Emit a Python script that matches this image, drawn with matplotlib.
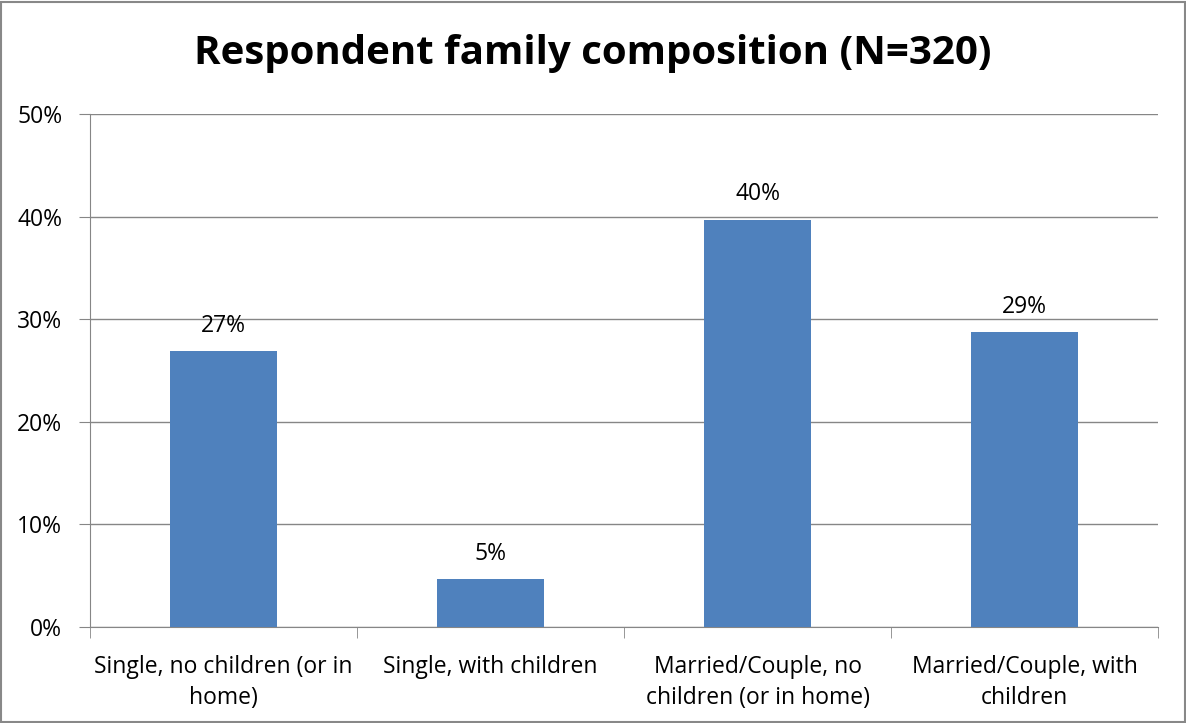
import matplotlib.pyplot as plt
import numpy as np

categories = ['Single, no children (or in\nhome)', 'Single, with children',
              'Married/Couple, no\nchildren (or in home)', 'Married/Couple, with\nchildren']
counts = [86, 15, 127, 92]
n_total = 320
values = [c / n_total * 100 for c in counts]
yticks = [0, 10, 20, 30, 40, 50]

plt.rcParams['font.family'] = ['Open Sans', 'DejaVu Sans']

fig = plt.figure(figsize=(11.86, 7.23), dpi=100)
ax = fig.add_axes([90 / 1186, 1 - 627 / 723, 1068 / 1186, 513 / 723])

x = np.arange(len(categories))
bars = ax.bar(x, values, width=0.4, color='#4f81bd', zorder=3)
for xi, v in zip(x, values):
    ax.text(xi, v + 1.3, '%d%%' % round(v), ha='center', va='bottom', fontsize=16.5)

ax.set_xlim(-0.5, len(categories) - 0.5)
ax.set_ylim(0, 50)
ax.set_yticks(yticks)
ax.set_yticklabels(['%d%%' % t for t in yticks], fontsize=16.5)
ax.yaxis.grid(True, color='#868686', linewidth=1, zorder=0)
ax.tick_params(axis='y', length=8, color='#868686', pad=12)

ax.set_xticks(x)
ax.set_xticklabels(categories, fontsize=16.5, linespacing=1.4)
ax.tick_params(axis='x', length=0, pad=20)
# category boundary ticks
ax.set_xticks(np.arange(-0.5, len(categories)), minor=True)
ax.tick_params(axis='x', which='minor', length=8, color='#868686')

for s in ['top', 'right']:
    ax.spines[s].set_visible(False)
for s in ['left', 'bottom']:
    ax.spines[s].set_color('#868686')

fig.suptitle('Respondent family composition (N=320)', fontsize=29, fontweight='bold', y=0.953)

# outer frame
fig.patches.append(plt.Rectangle((0.001, 0.001), 0.998, 0.996, transform=fig.transFigure,
                                 fill=False, edgecolor='#888888', linewidth=1.5))

fig.savefig('out.png', dpi=100)
